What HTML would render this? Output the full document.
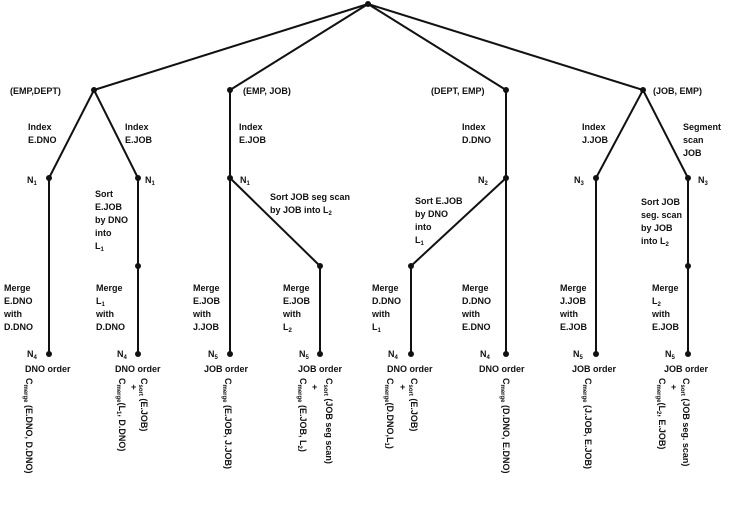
<!DOCTYPE html>
<html><head><meta charset="utf-8"><style>
html,body{margin:0;padding:0;background:#fff}
svg{display:block}
text{font-family:"Liberation Sans",sans-serif;font-size:9px;fill:#111;font-weight:bold}
.s{font-size:6px}
</style></head><body>
<svg width="747" height="519" viewBox="0 0 747 519">
<g stroke="#111" stroke-width="2" fill="none">
<line x1="368" y1="4" x2="94" y2="90"/><line x1="368" y1="4" x2="230" y2="90"/>
<line x1="368" y1="4" x2="506" y2="90"/><line x1="368" y1="4" x2="643" y2="90"/>
<line x1="94" y1="90" x2="49" y2="178"/><line x1="94" y1="90" x2="138" y2="178"/>
<line x1="230" y1="90" x2="230" y2="354"/><line x1="230" y1="178" x2="320" y2="266"/>
<line x1="506" y1="90" x2="506" y2="354"/><line x1="506" y1="178" x2="411" y2="266"/>
<line x1="643" y1="90" x2="596" y2="178"/><line x1="643" y1="90" x2="688" y2="178"/>
<line x1="49" y1="178" x2="49" y2="354"/><line x1="138" y1="178" x2="138" y2="354"/>
<line x1="320" y1="266" x2="320" y2="354"/><line x1="411" y1="266" x2="411" y2="354"/>
<line x1="596" y1="178" x2="596" y2="354"/><line x1="688" y1="178" x2="688" y2="354"/>
</g>
<g fill="#111">
<circle cx="368" cy="4" r="3"/><circle cx="94" cy="90" r="3"/><circle cx="230" cy="90" r="3"/><circle cx="506" cy="90" r="3"/><circle cx="643" cy="90" r="3"/>
<circle cx="49" cy="178" r="3"/><circle cx="138" cy="178" r="3"/><circle cx="230" cy="178" r="3"/><circle cx="506" cy="178" r="3"/><circle cx="596" cy="178" r="3"/><circle cx="688" cy="178" r="3"/>
<circle cx="138" cy="266" r="3"/><circle cx="320" cy="266" r="3"/><circle cx="411" cy="266" r="3"/><circle cx="688" cy="266" r="3"/>
<circle cx="49" cy="354" r="3"/><circle cx="138" cy="354" r="3"/><circle cx="230" cy="354" r="3"/><circle cx="320" cy="354" r="3"/><circle cx="411" cy="354" r="3"/><circle cx="506" cy="354" r="3"/><circle cx="596" cy="354" r="3"/><circle cx="688" cy="354" r="3"/>
</g>
<text x="10" y="94">(EMP,DEPT)</text>
<text x="28" y="130">Index</text><text x="28" y="143">E.DNO</text>
<text x="125" y="130">Index</text><text x="125" y="143">E.JOB</text>
<text x="27" y="183">N<tspan class="s" dy="2">1</tspan></text>
<text x="145" y="183">N<tspan class="s" dy="2">1</tspan></text>
<text x="95" y="197">Sort</text><text x="95" y="210">E.JOB</text><text x="95" y="223">by DNO</text><text x="95" y="236">into</text><text x="95" y="249">L<tspan class="s" dy="2">1</tspan></text>
<text x="4" y="291">Merge</text><text x="4" y="304">E.DNO</text><text x="4" y="317">with</text><text x="4" y="330">D.DNO</text>
<text x="96" y="291">Merge</text><text x="96" y="304">L<tspan class="s" dy="2">1</tspan></text><text x="96" y="317">with</text><text x="96" y="330">D.DNO</text>
<text x="243" y="94">(EMP, JOB)</text>
<text x="239" y="130">Index</text><text x="239" y="143">E.JOB</text>
<text x="240" y="183">N<tspan class="s" dy="2">1</tspan></text>
<text x="270" y="200">Sort JOB seg scan</text><text x="270" y="213">by JOB into L<tspan class="s" dy="2">2</tspan></text>
<text x="193" y="291">Merge</text><text x="193" y="304">E.JOB</text><text x="193" y="317">with</text><text x="193" y="330">J.JOB</text>
<text x="283" y="291">Merge</text><text x="283" y="304">E.JOB</text><text x="283" y="317">with</text><text x="283" y="330">L<tspan class="s" dy="2">2</tspan></text>
<text x="431" y="94">(DEPT, EMP)</text>
<text x="462" y="130">Index</text><text x="462" y="143">D.DNO</text>
<text x="478" y="183">N<tspan class="s" dy="2">2</tspan></text>
<text x="415" y="204">Sort E.JOB</text><text x="415" y="217">by DNO</text><text x="415" y="230">into</text><text x="415" y="243">L<tspan class="s" dy="2">1</tspan></text>
<text x="372" y="291">Merge</text><text x="372" y="304">D.DNO</text><text x="372" y="317">with</text><text x="372" y="330">L<tspan class="s" dy="2">1</tspan></text>
<text x="462" y="291">Merge</text><text x="462" y="304">D.DNO</text><text x="462" y="317">with</text><text x="462" y="330">E.DNO</text>
<text x="653" y="94">(JOB, EMP)</text>
<text x="582" y="130">Index</text><text x="582" y="143">J.JOB</text>
<text x="683" y="130">Segment</text><text x="683" y="143">scan</text><text x="683" y="156">JOB</text>
<text x="574" y="183">N<tspan class="s" dy="2">3</tspan></text>
<text x="698" y="183">N<tspan class="s" dy="2">3</tspan></text>
<text x="641" y="205">Sort JOB</text><text x="641" y="218">seg. scan</text><text x="641" y="231">by JOB</text><text x="641" y="244">into L<tspan class="s" dy="2">2</tspan></text>
<text x="560" y="291">Merge</text><text x="560" y="304">J.JOB</text><text x="560" y="317">with</text><text x="560" y="330">E.JOB</text>
<text x="652" y="291">Merge</text><text x="652" y="304">L<tspan class="s" dy="2">2</tspan></text><text x="652" y="317">with</text><text x="652" y="330">E.JOB</text>
<text x="27" y="357">N<tspan class="s" dy="2">4</tspan></text><text x="25" y="372">DNO order</text>
<text x="117" y="357">N<tspan class="s" dy="2">4</tspan></text><text x="115" y="372">DNO order</text>
<text x="208" y="357">N<tspan class="s" dy="2">5</tspan></text><text x="204" y="372">JOB order</text>
<text x="299" y="357">N<tspan class="s" dy="2">5</tspan></text><text x="298" y="372">JOB order</text>
<text x="388" y="357">N<tspan class="s" dy="2">4</tspan></text><text x="387" y="372">DNO order</text>
<text x="480" y="357">N<tspan class="s" dy="2">4</tspan></text><text x="479" y="372">DNO order</text>
<text x="573" y="357">N<tspan class="s" dy="2">5</tspan></text><text x="572" y="372">JOB order</text>
<text x="665" y="357">N<tspan class="s" dy="2">5</tspan></text><text x="664" y="372">JOB order</text>
<g>
<text transform="translate(26,378) rotate(90)">C<tspan class="s" dy="2">merge</tspan><tspan dy="-2"> (E.DNO, D.DNO)</tspan></text>
<text transform="translate(119,378) rotate(90)">C<tspan class="s" dy="2">merge</tspan><tspan dy="-2">(L</tspan><tspan class="s" dy="2">1</tspan><tspan dy="-2">, D.DNO)</tspan></text>
<text transform="translate(141,378) rotate(90)">C<tspan class="s" dy="2">sort</tspan><tspan dy="-2"> (E.JOB)</tspan></text>
<text x="131" y="390">+</text>
<text transform="translate(225,378) rotate(90)">C<tspan class="s" dy="2">merge</tspan><tspan dy="-2"> (E.JOB, J.JOB)</tspan></text>
<text transform="translate(300,378) rotate(90)">C<tspan class="s" dy="2">merge</tspan><tspan dy="-2"> (E.JOB, L</tspan><tspan class="s" dy="2">2</tspan><tspan dy="-2">)</tspan></text>
<text transform="translate(326,378) rotate(90)">C<tspan class="s" dy="2">sort</tspan><tspan dy="-2"> (JOB seg scan)</tspan></text>
<text x="312" y="390">+</text>
<text transform="translate(387,378) rotate(90)">C<tspan class="s" dy="2">merge</tspan><tspan dy="-2">(D.DNO,L</tspan><tspan class="s" dy="2">1</tspan><tspan dy="-2">)</tspan></text>
<text transform="translate(411,378) rotate(90)">C<tspan class="s" dy="2">sort</tspan><tspan dy="-2"> (E.JOB)</tspan></text>
<text x="400" y="390">+</text>
<text transform="translate(503,378) rotate(90)">C<tspan class="s" dy="2">merge</tspan><tspan dy="-2"> (D.DNO, E.DNO)</tspan></text>
<text transform="translate(585,378) rotate(90)">C<tspan class="s" dy="2">merge</tspan><tspan dy="-2"> (J.JOB, E.JOB)</tspan></text>
<text transform="translate(659,378) rotate(90)">C<tspan class="s" dy="2">merge</tspan><tspan dy="-2">(L</tspan><tspan class="s" dy="2">2</tspan><tspan dy="-2">, E.JOB)</tspan></text>
<text transform="translate(683,378) rotate(90)">C<tspan class="s" dy="2">sort</tspan><tspan dy="-2"> (JOB seg. scan)</tspan></text>
<text x="671" y="390">+</text>
</g>
</svg>
</body></html>
